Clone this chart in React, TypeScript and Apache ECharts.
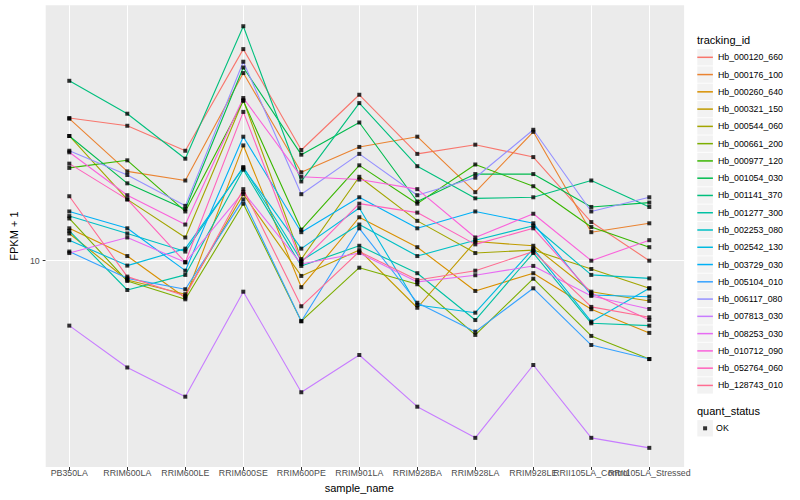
import React, { useEffect, useRef } from "react";
import * as echarts from "echarts";

const FONT = "'Liberation Sans', Arial, Helvetica, sans-serif";

const categories = [
  "PB350LA", "RRIM600LA", "RRIM600LE", "RRIM600SE", "RRIM600PE", "RRIM901LA",
  "RRIM928BA", "RRIM928LA", "RRIM928LE", "RRII105LA_Control", "RRII105LA_Stressed",
];

const trackingIds = [
  "Hb_000120_660", "Hb_000176_100", "Hb_000260_640", "Hb_000321_150", "Hb_000544_060",
  "Hb_000661_200", "Hb_000977_120", "Hb_001054_030", "Hb_001141_370", "Hb_001277_300",
  "Hb_002253_080", "Hb_002542_130", "Hb_003729_030", "Hb_005104_010", "Hb_006117_080",
  "Hb_007813_030", "Hb_008253_030", "Hb_010712_090", "Hb_052764_060", "Hb_128743_010",
];

const colors = [
  "#F8766D", "#EA8331", "#D89000", "#C09B00", "#A3A500", "#7CAE00", "#39B600", "#00BB4E",
  "#00BF7D", "#00C1A3", "#00BFC4", "#00BAE0", "#00B0F6", "#35A2FF", "#9590FF", "#C77CFF",
  "#E76BF3", "#FA62DB", "#FF62BC", "#FF6C91",
];

// FPKM + 1 per sample, in category order
const hb_000120_660 = [24.9, 23.7, 20.2, 38.7, 20.3, 28.9, 19.8, 21.0, 19.4, 12.8, 10.0];
const hb_000176_100 = [24.8, 17.7, 16.7, 33.2, 17.6, 20.7, 22.1, 15.5, 22.8, 12.0, 12.7];
const hb_000260_640 = [12.3, 10.3, 7.89, 20.9, 8.44, 13.2, 10.9, 8.24, 9.23, 7.33, 6.30];
const hb_000321_150 = [11.9, 8.84, 8.07, 15.3, 9.07, 10.7, 7.40, 11.3, 11.0, 8.20, 7.73];
const hb_000544_060 = [22.2, 14.8, 11.6, 27.9, 10.1, 17.1, 12.9, 10.5, 10.7, 9.48, 8.38];
const hb_000661_200 = [13.1, 8.78, 7.81, 14.4, 6.79, 9.56, 8.60, 6.22, 8.91, 6.18, 5.33];
const hb_000977_120 = [18.1, 19.0, 13.7, 27.8, 12.2, 18.4, 14.4, 18.5, 16.1, 12.4, 10.9];
const hb_001054_030 = [22.2, 16.4, 13.9, 34.4, 19.7, 24.2, 14.6, 17.4, 17.4, 14.1, 14.5];
const hb_001141_370 = [31.6, 25.6, 19.2, 44.8, 16.6, 27.4, 18.3, 14.9, 15.0, 16.7, 14.1];
const hb_001277_300 = [12.1, 8.29, 9.13, 17.9, 9.67, 11.0, 9.23, 6.84, 10.5, 6.70, 6.60];
const hb_002253_080 = [13.3, 11.9, 10.6, 18.2, 10.0, 12.6, 10.3, 11.4, 12.5, 9.13, 8.93];
const hb_002542_130 = [11.4, 9.69, 10.8, 18.1, 10.8, 14.0, 7.53, 7.17, 10.8, 6.77, 8.38];
const hb_003729_030 = [13.7, 12.3, 9.38, 22.1, 12.0, 15.0, 12.3, 13.7, 12.7, 8.03, 7.94];
const hb_005104_010 = [10.6, 8.93, 8.33, 14.8, 6.79, 12.3, 7.64, 6.35, 8.38, 5.83, 5.33];
const hb_006117_080 = [20.2, 17.3, 14.2, 35.7, 15.3, 19.8, 15.2, 17.0, 23.1, 13.7, 15.0];
const hb_007813_030 = [6.60, 5.05, 4.19, 8.20, 4.31, 5.47, 3.93, 3.22, 5.13, 3.22, 3.02];
const hb_008253_030 = [10.5, 11.6, 9.90, 15.5, 9.79, 10.5, 8.73, 9.11, 9.67, 7.98, 7.34];
const hb_010712_090 = [20.0, 15.2, 12.6, 28.3, 17.1, 16.8, 15.8, 11.6, 13.5, 10.0, 11.4];
const hb_052764_060 = [18.6, 14.8, 9.90, 25.9, 9.90, 14.4, 13.6, 11.1, 12.3, 8.13, 6.84];
const hb_128743_010 = [15.1, 9.03, 7.98, 15.8, 7.47, 10.6, 8.84, 9.38, 10.6, 7.44, 6.96];

const seriesValues = [
  hb_000120_660, hb_000176_100, hb_000260_640, hb_000321_150, hb_000544_060,
  hb_000661_200, hb_000977_120, hb_001054_030, hb_001141_370, hb_001277_300,
  hb_002253_080, hb_002542_130, hb_003729_030, hb_005104_010, hb_006117_080,
  hb_007813_030, hb_008253_030, hb_010712_090, hb_052764_060, hb_128743_010,
];

const yTickValues = [10];
const yMin = 2.672;
const yMax = 51.25;

export default function App() {
  const ref = useRef<HTMLDivElement>(null);

  useEffect(() => {
    if (!ref.current) return;
    const chart = echarts.init(ref.current, undefined, { renderer: "svg" });

    const top = 5.2;
    const bottom = 33;
    const rowH = 17.27;
    const firstRow = 57.3;

    const lineSeries = trackingIds.map((name, i) => ({
      name,
      type: "line",
      xAxisIndex: 1,
      yAxisIndex: 1,
      data: seriesValues[i],
      color: colors[i],
      symbol: "none",
      showSymbol: false,
      clip: false,
      z: 3,
      lineStyle: { color: colors[i], width: 1.1 },
      emphasis: { disabled: true },
    }));

    const pointData: any[] = [];
    seriesValues.forEach((vals) => {
      vals.forEach((v, j) => pointData.push([categories[j], v]));
    });

    const keyRects: any[] = trackingIds.map((_, i) => ({
      type: "rect",
      silent: true,
      shape: { x: 697.3, y: firstRow + i * rowH - 8.2, width: 15.6, height: 16.4 },
      style: { fill: "#F2F2F2" },
    }));
    keyRects.push({
      type: "rect",
      silent: true,
      shape: { x: 697.3, y: 428.3 - 8.2, width: 15.6, height: 16.4 },
      style: { fill: "#F2F2F2" },
    });

    const option: any = {
      animation: false,
      backgroundColor: "#FFFFFF",
      textStyle: { fontFamily: FONT },
      grid: [
        {
          left: 34.5, right: 115.9, top, bottom,
          show: true, backgroundColor: "#EBEBEB", borderWidth: 0,
        },
        { left: 69.3, right: 150.7, top, bottom },
      ],
      xAxis: [
        { gridIndex: 0, type: "value", min: 0, max: 1, show: false },
        {
          gridIndex: 1,
          type: "category",
          data: categories,
          boundaryGap: false,
          axisLine: { show: false },
          axisTick: { show: true, length: 3, lineStyle: { color: "#333333", width: 1 } },
          axisLabel: { interval: 0, color: "#4D4D4D", fontSize: 8.8, margin: 1.5, fontFamily: FONT },
          splitLine: { show: true, lineStyle: { color: "#FFFFFF", width: 1.07 } },
          name: "sample_name",
          nameLocation: "middle",
          nameGap: 12,
          nameTextStyle: { color: "#000000", fontSize: 11, fontFamily: FONT },
        },
      ],
      yAxis: [
        {
          gridIndex: 0,
          type: "value",
          min: Math.log10(yMin),
          max: Math.log10(yMax),
          axisLine: { show: false },
          axisTick: {
            show: true, length: 3, customValues: yTickValues.map((v) => Math.log10(v)),
            lineStyle: { color: "#333333", width: 1 },
          },
          axisLabel: {
            customValues: yTickValues.map((v) => Math.log10(v)),
            formatter: (v: number) => {
              const t = yTickValues.find((y) => Math.abs(Math.log10(y) - v) < 1e-6);
              return t === undefined ? "" : String(t);
            },
            color: "#4D4D4D", fontSize: 8.8, margin: 6, fontFamily: FONT,
          },
          splitLine: { show: false },
          name: "FPKM + 1",
          nameLocation: "middle",
          nameGap: 16,
          nameRotate: 90,
          nameTextStyle: { color: "#000000", fontSize: 11, fontFamily: FONT },
        },
        { gridIndex: 1, type: "log", logBase: 10, min: yMin, max: yMax, show: false },
      ],
      legend: [
        {
          data: trackingIds.map((n, i) => ({ name: n, itemStyle: { color: colors[i] } })),
          orient: "vertical",
          left: 697.3,
          top: firstRow - 6,
          padding: 0,
          icon: "rect",
          itemWidth: 15.6,
          itemHeight: 1.5,
          itemGap: rowH - 12,
          selectedMode: false,
          textStyle: { fontSize: 8.8, lineHeight: 12, color: "#000000", fontFamily: FONT },
        },
        {
          data: [{ name: "OK", itemStyle: { color: "#000000" } }],
          orient: "vertical",
          left: 703.1,
          top: 428.3 - 6,
          padding: 0,
          icon: "rect",
          itemWidth: 4,
          itemHeight: 4,
          selectedMode: false,
          textStyle: { fontSize: 8.8, lineHeight: 12, color: "#000000", fontFamily: FONT, padding: [0, 0, 0, 4] },
        },
      ],
      graphic: [
        ...keyRects,
        {
          type: "text", x: 697, y: 40, silent: true,
          style: { text: "tracking_id", fontSize: 11, fill: "#000000", fontFamily: FONT, verticalAlign: "middle" },
        },
        {
          type: "text", x: 697, y: 411, silent: true,
          style: { text: "quant_status", fontSize: 11, fill: "#000000", fontFamily: FONT, verticalAlign: "middle" },
        },
      ],
      series: [
        {
          name: "gridline",
          type: "line",
          xAxisIndex: 0,
          yAxisIndex: 0,
          data: [],
          symbol: "none",
          silent: true,
          z: 1,
          markLine: {
            silent: true,
            z: 1,
            symbol: ["none", "none"],
            label: { show: false },
            lineStyle: { color: "#FFFFFF", width: 1.07, type: "solid" },
            emphasis: { disabled: true },
            data: [{ yAxis: Math.log10(yTickValues[0]) }],
          },
        },
        ...lineSeries,
        {
          name: "OK",
          type: "scatter",
          xAxisIndex: 1,
          yAxisIndex: 1,
          data: pointData,
          symbol: "rect",
          symbolSize: 4,
          color: "#000000",
          itemStyle: { color: "#000000" },
          clip: false,
          z: 4,
          emphasis: { disabled: true },
        },
      ],
    };

    chart.setOption(option);
    return () => chart.dispose();
  }, []);

  return (
    <div
      ref={ref}
      style={{ position: "fixed", left: 0, top: 0, width: 800, height: 500 }}
    />
  );
}
